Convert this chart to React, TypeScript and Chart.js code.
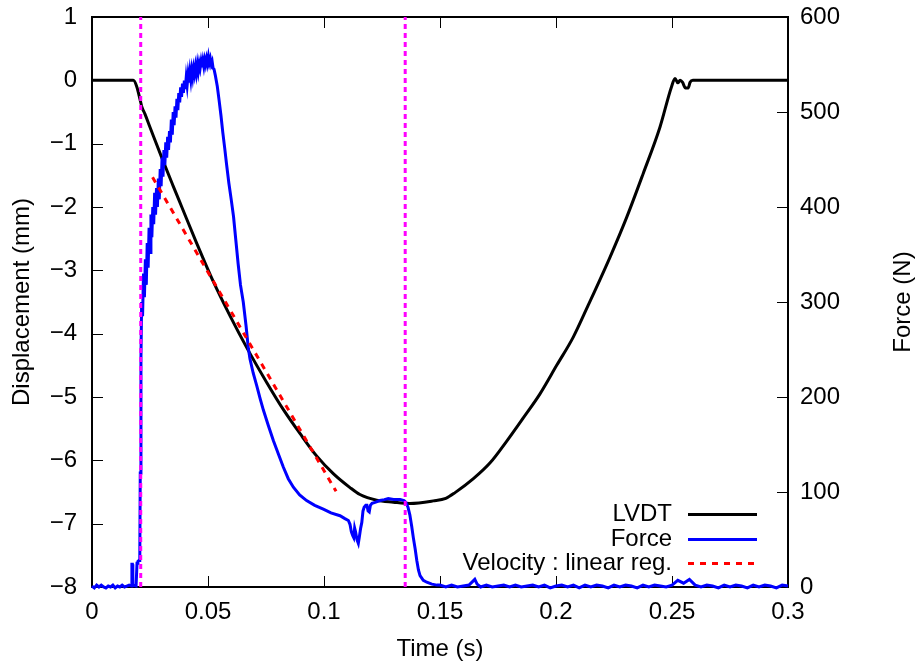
import React, { useEffect, useRef } from "react";
import { Chart, registerables } from "chart.js";
Chart.register(...registerables);

// ---- data ----
const lvdtTime = [0, 0.005, 0.01, 0.015, 0.0178, 0.0193, 0.0207, 0.0215, 0.0228, 0.025, 0.0307, 0.035, 0.0387, 0.0451, 0.0523, 0.0595, 0.0667, 0.0753, 0.0825, 0.0897, 0.0968, 0.104, 0.1112, 0.1155, 0.1227, 0.1299, 0.137, 0.1471, 0.1525, 0.1565, 0.1644, 0.1716, 0.1787, 0.1859, 0.1931, 0.2003, 0.2075, 0.2139, 0.2233, 0.2305, 0.2376, 0.2448, 0.2498, 0.2513, 0.2525, 0.2535, 0.2545, 0.2558, 0.257, 0.2578, 0.259, 0.3];
const lvdtDisp = [0, 0, 0, 0, 0, -0.1, -0.3, -0.42, -0.53, -0.74, -1.28, -1.67, -2.0, -2.57, -3.18, -3.72, -4.22, -4.77, -5.2, -5.58, -5.93, -6.21, -6.43, -6.54, -6.63, -6.66, -6.68, -6.64, -6.6, -6.51, -6.29, -6.04, -5.7, -5.33, -4.95, -4.5, -4.05, -3.55, -2.79, -2.16, -1.47, -0.74, -0.1, 0.03, -0.04, 0.0, -0.03, -0.12, -0.12, -0.03, 0, 0];

const forceTime = [
  0, 0.001, 0.002, 0.003, 0.004, 0.005, 0.006, 0.007, 0.008, 0.009, 0.01, 0.011, 0.012, 0.013, 0.014, 0.015, 0.016,
  0.017, 0.0172, 0.0174, 0.0176, 0.019, 0.0194, 0.0198, 0.0202, 0.0206,
  0.0208, 0.0211, 0.0214, 0.0218, 0.0222, 0.0226, 0.023, 0.0234, 0.0238, 0.0242, 0.0246, 0.025, 0.0254, 0.0258, 0.0262, 0.0266, 0.027, 0.0274, 0.0278, 0.0282, 0.0286, 0.029, 0.0294, 0.0298, 0.0302, 0.0306, 0.031, 0.0314, 0.0318, 0.0322, 0.0326, 0.033, 0.0334, 0.0338, 0.0342, 0.0346, 0.035, 0.0354, 0.0358, 0.0362, 0.0366, 0.037, 0.0374, 0.0378, 0.0382, 0.0386, 0.039, 0.0394, 0.0398, 0.0402, 0.0406, 0.041, 0.0414, 0.0418, 0.0422, 0.0426, 0.043, 0.0434, 0.0438, 0.0442, 0.0446, 0.045, 0.0454, 0.0458, 0.0462, 0.0466, 0.047, 0.0474, 0.0478, 0.0482, 0.0486, 0.049, 0.0494, 0.0498, 0.0502, 0.0506, 0.051, 0.0514, 0.0518, 0.0522, 0.0526,
  0.0532, 0.054, 0.0548, 0.0556, 0.0564, 0.0572, 0.058, 0.059, 0.06, 0.061, 0.062, 0.063, 0.064, 0.0652, 0.0664, 0.0674, 0.0681, 0.0695, 0.071, 0.0725, 0.0739, 0.076, 0.0782, 0.0805, 0.0825, 0.0846, 0.0868, 0.0895, 0.0925, 0.096, 0.0997, 0.103, 0.1069, 0.109, 0.1105, 0.1112, 0.1118, 0.1124, 0.1128, 0.1132, 0.1136, 0.1142, 0.1148, 0.1152, 0.1158, 0.1163, 0.1168, 0.1173, 0.118, 0.1185, 0.119, 0.1195, 0.12, 0.1207, 0.122, 0.1241, 0.126, 0.1277, 0.13, 0.1328, 0.1345, 0.1353, 0.1362, 0.137, 0.1378, 0.1385, 0.1393, 0.14, 0.1407, 0.1414, 0.1428, 0.1443, 0.1465, 0.1487,
  0.15, 0.1525, 0.155, 0.1575, 0.16, 0.1625, 0.165, 0.166, 0.1675, 0.17, 0.1725, 0.175, 0.1775, 0.18, 0.1825, 0.185, 0.1875, 0.19, 0.1925, 0.195, 0.1975, 0.2, 0.2025, 0.205, 0.2075, 0.21, 0.2125, 0.215, 0.2175, 0.22, 0.2225, 0.225, 0.2275, 0.23, 0.2325, 0.235, 0.2375, 0.24, 0.2425, 0.245, 0.2475, 0.25, 0.2525, 0.255, 0.2575, 0.26, 0.2625, 0.265, 0.2675, 0.27, 0.2725, 0.275, 0.2775, 0.28, 0.2825, 0.285, 0.2875, 0.29, 0.2925, 0.295, 0.2975, 0.3,
];
const forceVal = [
  1, -1, 2, 0, 2, 0, -1, 1, 0, 2, -1, 1, 0, 2, 0, 1, 2,
  1, 24, 24, 2, 1, 25, 27, 28, 28,
  120, 240, 300, 285, 330, 305, 345, 318, 362, 336, 378, 352, 392, 368, 400, 382, 415, 392, 420, 400, 430, 408, 440, 422, 452, 432, 460, 444, 468, 452, 474, 460, 480, 468, 492, 476, 500, 486, 506, 494, 514, 502, 520, 510, 526, 516, 530, 520, 533, 524, 536, 528, 539, 531, 542, 534, 544, 537, 546, 540, 548, 541, 550, 543, 551, 546, 553, 547, 554, 548, 555, 550, 556, 551, 558, 552, 556, 550, 553, 546, 545,
  538, 527, 512, 496, 478, 462, 445, 425, 408, 390, 365, 340, 318, 300, 275, 251, 240, 225, 212, 198, 186, 170, 154, 139, 126, 114, 105, 97, 91, 86, 82, 78, 75, 72, 70, 66, 58, 54, 52, 62, 58, 50, 46, 52, 62, 68, 80, 84, 86, 86, 80, 79, 86, 88, 89, 91, 92, 93, 92, 92, 91, 89, 84, 76, 64, 52, 40, 28, 18, 12, 7, 5, 3, 2,
  2, 0, 2, 0, 1, 2, 8, 3, 0, 2, 0, 1, 2, 0, 2, 0, 1, 2, 0, 2, -1, 1, 2, 0, 2, -1, 2, 0, 2, 1, -1, 2, 0, 2, 1, -1, 2, 0, 2, 1, 0, 2, 7, 4, 8, 2, 0, 2, 1, -1, 2, 0, 2, 1, -1, 2, 0, 2, 1, -1, 2, 1,
];

const regTime = [0.0261, 0.1052];
const regDisp = [-1.53, -6.49];

const markerTimes = [0.021, 0.135];
const markerRange = [-8, 1];

const seriesLabels = ["LVDT", "Force", "Velocity : linear reg."];
const xLabel = "Time (s)";
const yLabel = "Displacement (mm)";
const y2Label = "Force (N)";

const FONT = '"Liberation Sans", Arial, Helvetica, sans-serif';
const FS = 24;

const fmt = (v: number) => String(Number(v.toFixed(2))).replace("-", "\u2212");
const pts = (xs: number[], ys: number[]) => xs.map((x, i) => ({ x, y: ys[i] }));

const gnuplotPlugin = {
  id: "gnuplotFrame",
  beforeDatasetsDraw(chart: any) {
    const { ctx, chartArea: a, scales } = chart;
    ctx.save();
    ctx.strokeStyle = "#000";
    ctx.lineWidth = 1;
    const L = 11;
    ctx.beginPath();
    scales.x.ticks.forEach((t: any) => {
      const px = Math.round(scales.x.getPixelForValue(t.value)) + 0.5;
      ctx.moveTo(px, a.bottom);
      ctx.lineTo(px, a.bottom - L);
      ctx.moveTo(px, a.top);
      ctx.lineTo(px, a.top + L);
    });
    scales.y.ticks.forEach((t: any) => {
      const py = Math.round(scales.y.getPixelForValue(t.value)) + 0.5;
      ctx.moveTo(a.left, py);
      ctx.lineTo(a.left + L, py);
    });
    scales.y2.ticks.forEach((t: any) => {
      const py = Math.round(scales.y2.getPixelForValue(t.value)) + 0.5;
      ctx.moveTo(a.right, py);
      ctx.lineTo(a.right - L, py);
    });
    ctx.stroke();
    ctx.lineWidth = 2;
    ctx.strokeRect(a.left, a.top, a.right - a.left, a.bottom - a.top);
    ctx.restore();
  },
  afterDraw(chart: any) {
    const { ctx, chartArea: a, width, height } = chart;
    ctx.save();
    ctx.fillStyle = "#000";
    ctx.font = `${FS}px ${FONT}`;
    // legend
    const ds = chart.data.datasets;
    const rows = [a.bottom - 73, a.bottom - 48, a.bottom - 24];
    for (let i = 0; i < 3; i++) {
      const d = ds[i];
      ctx.textAlign = "right";
      ctx.textBaseline = "middle";
      ctx.fillStyle = "#000";
      ctx.fillText(d.label, a.right - 116, rows[i]);
      ctx.beginPath();
      ctx.strokeStyle = d.borderColor;
      ctx.lineWidth = d.borderWidth;
      ctx.setLineDash(d.borderDash || []);
      ctx.moveTo(a.right - 100, rows[i] + 0.5);
      ctx.lineTo(a.right - 31, rows[i] + 0.5);
      ctx.stroke();
      ctx.setLineDash([]);
    }
    // axis titles
    ctx.fillStyle = "#000";
    ctx.textAlign = "center";
    ctx.textBaseline = "middle";
    ctx.fillText(xLabel, (a.left + a.right) / 2, height - 14);
    const cy = (a.top + a.bottom) / 2;
    ctx.save();
    ctx.translate(22, cy);
    ctx.rotate(-Math.PI / 2);
    ctx.fillText(yLabel, 0, 0);
    ctx.restore();
    ctx.save();
    ctx.translate(width - 14, cy);
    ctx.rotate(-Math.PI / 2);
    ctx.fillText(y2Label, 0, 0);
    ctx.restore();
    ctx.restore();
  },
};

const zeroPad = (s: any) => {
  s.paddingTop = 0;
  s.paddingBottom = 0;
  s.paddingLeft = 0;
  s.paddingRight = 0;
};

export default function App() {
  const ref = useRef<HTMLCanvasElement | null>(null);
  useEffect(() => {
    if (!ref.current) return;
    const tickFont = { family: FONT, size: FS };
    const chart = new Chart(ref.current, {
      type: "line",
      data: {
        datasets: [
          {
            label: seriesLabels[0],
            data: pts(lvdtTime, lvdtDisp),
            borderColor: "#000000",
            borderWidth: 3,
            pointRadius: 0,
            yAxisID: "y",
            order: 3,
            cubicInterpolationMode: "monotone",
          },
          {
            label: seriesLabels[1],
            data: pts(forceTime, forceVal),
            borderColor: "#0000ff",
            borderWidth: 3,
            pointRadius: 0,
            yAxisID: "y2",
            order: 2,
            tension: 0,
            clip: 4,
          },
          {
            label: seriesLabels[2],
            data: pts(regTime, regDisp),
            borderColor: "#ff0000",
            borderWidth: 3,
            borderDash: [6, 6],
            pointRadius: 0,
            yAxisID: "y",
            order: 1,
          },
          ...markerTimes.map((t) => ({
            label: "marker",
            data: pts([t, t], markerRange),
            borderColor: "#ff00ff",
            borderWidth: 3,
            borderDash: [5, 4],
            pointRadius: 0,
            yAxisID: "y",
            order: 0,
          })),
        ] as any,
      },
      options: {
        animation: false,
        responsive: false,
        layout: { padding: { top: 17, left: 0, right: 0, bottom: 0 } },
        plugins: { legend: { display: false }, tooltip: { enabled: false } },
        scales: {
          x: {
            type: "linear",
            min: 0,
            max: 0.3,
            grid: { display: false, drawTicks: false },
            border: { display: false },
            ticks: { stepSize: 0.05, font: tickFont, color: "#000", padding: 11, callback: (v: any) => fmt(Number(v)), maxRotation: 0 },
            afterFit: (s: any) => { s.height = 76; zeroPad(s); },
          },
          y: {
            type: "linear",
            position: "left",
            min: -8,
            max: 1,
            grid: { display: false, drawTicks: false },
            border: { display: false },
            ticks: { stepSize: 1, font: tickFont, color: "#000", padding: 15, callback: (v: any) => fmt(Number(v)) },
            afterFit: (s: any) => { s.width = 92; zeroPad(s); },
          },
          y2: {
            type: "linear",
            position: "right",
            min: 0,
            max: 600,
            grid: { display: false, drawTicks: false },
            border: { display: false },
            ticks: { stepSize: 100, font: tickFont, color: "#000", padding: 12, callback: (v: any) => fmt(Number(v)) },
            afterFit: (s: any) => { s.width = 129; zeroPad(s); },
          },
        },
      } as any,
      plugins: [gnuplotPlugin],
    });
    return () => chart.destroy();
  }, []);
  return (
    <div style={{ position: "fixed", left: 0, top: 0, width: 917, height: 663, background: "#fff" }}>
      <canvas ref={ref} width={917} height={663} style={{ display: "block", width: 917, height: 663 }} />
    </div>
  );
}
